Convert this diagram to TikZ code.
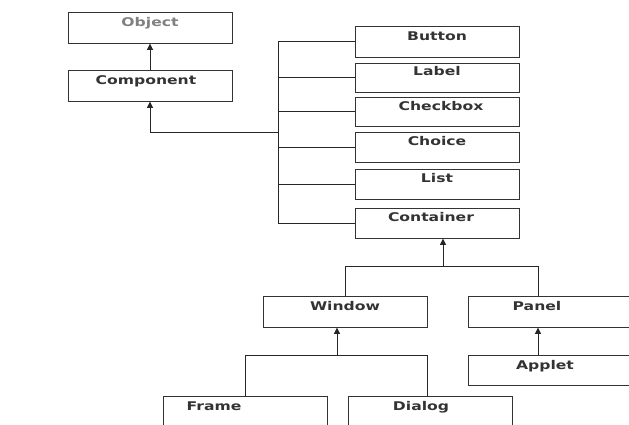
\documentclass[tikz,border=0pt]{standalone}
\usepackage{fontspec}
\newfontfamily\lblfont[FakeStretch=1.3]{DejaVu Sans}
\usetikzlibrary{arrows.meta,calc}
\begin{document}
\begin{tikzpicture}[x=1pt,y=-1pt,
  box/.style={draw=black!80,line width=0.9pt,minimum width=164pt,minimum height=#1,inner sep=0pt,anchor=center},
  box/.default=30pt,
  lbl/.style={anchor=north,inner sep=0pt,yshift=-6pt,font=\lblfont\bfseries\fontsize{12}{13}\selectfont,text=black!80},
  conn/.style={draw=black!85,line width=0.9pt},
  arr/.style={conn,-{Triangle[length=6.5pt,width=6pt]}}]
\clip (0,0) rectangle (629,424);
\useasboundingbox (0,0) rectangle (629,424);
% left column
\node[box=31pt,label={[lbl,text=black!50]north:Object}] (object) at (150,27.5) {};
\node[box=31pt,label={[lbl,xshift=-4pt]north:Component}] (component) at (150,85.5) {};
% right column
\node[box=31pt,label={[lbl]north:Button}] (button) at (437,41.5) {};
\node[box=29pt,label={[lbl,yshift=2pt]north:Label}] (label) at (437,77.5) {};
\node[box=29pt,label={[lbl,xshift=4pt,yshift=1pt]north:Checkbox}] (checkbox) at (437,111.5) {};
\node[box=30pt,label={[lbl,yshift=1pt]north:Choice}] (choice) at (437,147) {};
\node[box=30pt,label={[lbl,yshift=1pt]north:List}] (list) at (437,184) {};
\node[box=30pt,label={[lbl,xshift=-6pt,yshift=1pt]north:Container}] (container) at (437,223) {};
% lower levels
\node[box=31pt,label={[lbl]north:Window}] (window) at (345,311.5) {};
\node[box=31pt,label={[lbl,xshift=-13pt]north:Panel}] (panel) at (550,311.5) {};
\node[box=30pt,label={[lbl,xshift=-5pt]north:Applet}] (applet) at (550,370) {};
\node[box=31pt,label={[lbl,xshift=-31pt]north:Frame}] (frame) at (245,411.5) {};
\node[box=31pt,label={[lbl,xshift=-9pt]north:Dialog}] (dialog) at (430,411.5) {};
% junction coordinates
\coordinate (bus) at (278,132);
\coordinate (cj) at (443,266);
\coordinate (pj) at (538,266);
\coordinate (wj) at (337,355);
\coordinate (dj) at (427,355);
% connectors
\draw[arr] (component.north) -- (object.south);
\draw[conn] (button.west -| bus) -- (container.west -| bus);
\foreach \n in {button,label,checkbox,choice,list,container}
  \draw[conn] (\n.west) -- (\n.west -| bus);
\draw[arr] (bus) -| (component.south);
\draw[arr] (cj) -- (cj |- container.south);
\draw[conn] (window.north) |- (pj) -- (pj |- panel.north);
\draw[arr] (applet.north -| pj) -- (panel.south -| pj);
\draw[arr] (wj) -- (wj |- window.south);
\draw[conn] (frame.north) |- (dj) -- (dj |- dialog.north);
\end{tikzpicture}
\end{document}
